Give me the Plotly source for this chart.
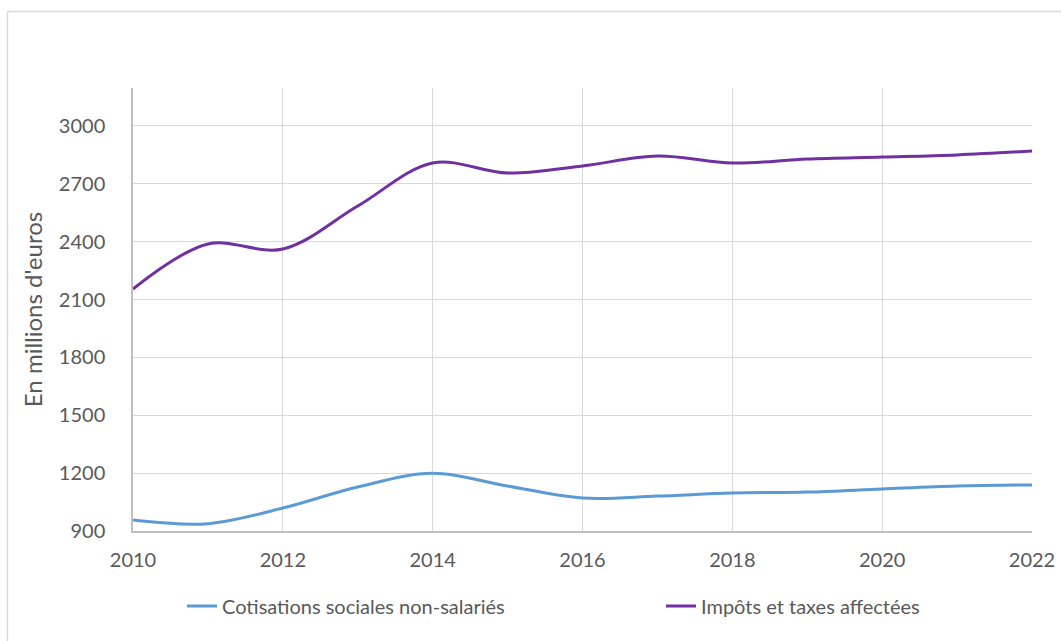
import plotly.graph_objects as go

years = list(range(2010, 2023))
cotisations = [957, 938, 1019, 1128, 1199, 1133, 1071, 1081, 1097, 1102, 1118, 1133, 1139]
impots = [2155, 2388, 2362, 2585, 2808, 2756, 2793, 2844, 2808, 2829, 2839, 2850, 2870]
y_ticks = [900, 1200, 1500, 1800, 2100, 2400, 2700, 3000]
x_ticks = [2010, 2012, 2014, 2016, 2018, 2020, 2022]

FONT = "Lato"
TXT = "#595959"

fig = go.Figure()
fig.add_trace(go.Scatter(
    x=years, y=cotisations, mode="lines", name="Cotisations sociales non-salariés",
    line=dict(color="#5b9bd5", width=3, shape="spline"), legend="legend"))
fig.add_trace(go.Scatter(
    x=years, y=impots, mode="lines", name="Impôts et taxes affectées",
    line=dict(color="#7030a0", width=3, shape="spline"), legend="legend2"))

W, H = 1061, 641
L, R, T, B = 133, 29, 88, 110
pw, ph = W - L - R, H - T - B

def px(x):
    return (x - L) / pw

def py(y):
    return (H - B - y) / ph

fig.update_layout(
    width=W, height=H,
    margin=dict(l=L, r=R, t=T, b=B, autoexpand=False),
    paper_bgcolor="white", plot_bgcolor="white",
    font=dict(family=FONT, size=20, color=TXT),
    showlegend=True,
    legend=dict(orientation="h", x=px(182), y=py(606), xanchor="left", yanchor="middle",
                font=dict(family=FONT, size=20, color=TXT), bgcolor="rgba(0,0,0,0)"),
    legend2=dict(orientation="h", x=px(661), y=py(606), xanchor="left", yanchor="middle",
                 font=dict(family=FONT, size=20, color=TXT), bgcolor="rgba(0,0,0,0)"),
    xaxis=dict(range=[2010, 2022], tickvals=x_ticks, ticktext=[str(v) for v in x_ticks],
               showgrid=True, gridcolor="#d9d9d9", gridwidth=1,
               showline=True, linecolor="#bfbfbf", linewidth=1.5,
               ticks="", zeroline=False, ticklabelstandoff=10, automargin=False,
               tickfont=dict(family=FONT, size=20, color=TXT)),
    yaxis=dict(range=[900, 3197], tickvals=y_ticks, ticktext=[str(v) for v in y_ticks],
               showgrid=True, gridcolor="#d9d9d9", gridwidth=1,
               showline=True, linecolor="#bfbfbf", linewidth=1.5,
               ticks="", zeroline=False, ticklabelstandoff=22, automargin=False,
               title=dict(text="En millions d'euros", standoff=9,
                          font=dict(family=FONT, size=24, color=TXT)),
               tickfont=dict(family=FONT, size=20, color=TXT)),
    shapes=[
        dict(type="line", xref="paper", yref="paper", x0=px(7.5), x1=px(1070),
             y0=py(11.5), y1=py(11.5), line=dict(color="#d9d9d9", width=1.5)),
        dict(type="line", xref="paper", yref="paper", x0=px(7.5), x1=px(7.5),
             y0=py(11.5), y1=py(650), line=dict(color="#d9d9d9", width=1.5)),
    ],
)

fig.write_html("out.html")
